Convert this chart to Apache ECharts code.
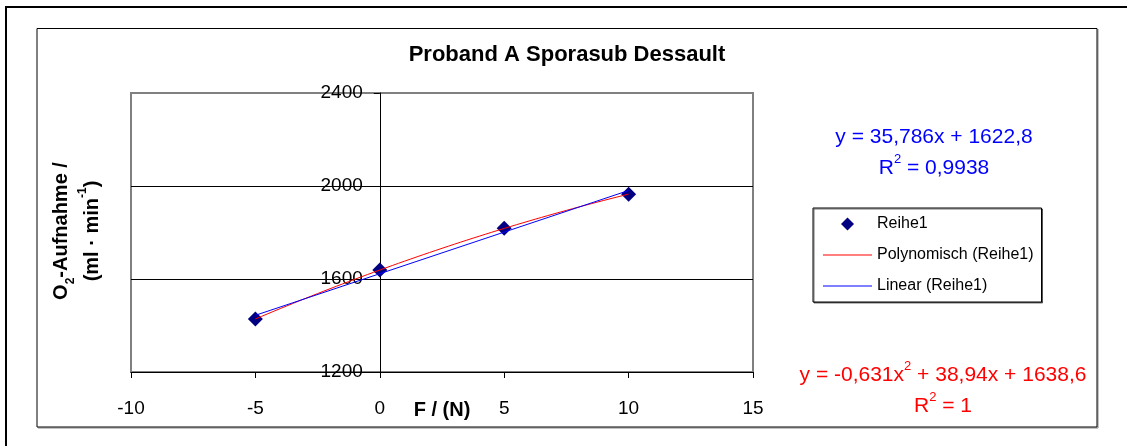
<!DOCTYPE html>
<html>
<head>
<meta charset="utf-8">
<title>Proband A Sporasub Dessault</title>
<script src="https://cdn.jsdelivr.net/npm/echarts@6/dist/echarts.min.js"></script>
<style>
  html, body { margin: 0; padding: 0; background: #fff; }
  #chart { width: 1127px; height: 446px; }
</style>
</head>
<body>
<div id="chart"></div>
<script>
// Measured load (F in N) and oxygen uptake (ml/min)
const forceValues = [-5, 0, 5, 10];
const o2Values = [1428, 1639, 1818, 1965];

// Trendline coefficients as printed on the chart
const linearCoef = [35.786, 1622.8];          // y = a*x + b
const linearR2 = '0,9938';
const polyCoef = [-0.631, 38.94, 1638.6];     // y = a*x^2 + b*x + c
const polyR2 = '1';

// Axis ranges and tick steps
const xMin = -10, xMax = 15, xStep = 5;
const yMin = 1200, yMax = 2400, yStep = 400;

const seriesNames = ['Reihe1', 'Polynomisch (Reihe1)', 'Linear (Reihe1)'];

const FONT = '"Liberation Sans", Arial, Helvetica, sans-serif';
const GRID = { left: 131, top: 93, width: 622, height: 279 };

const de = v => String(v).replace('.', ',');

// Trendline samples over the measured range
const tMin = Math.min(...forceValues), tMax = Math.max(...forceValues);
const polyLine = [];
for (let i = 0; i <= 60; i++) {
  const x = tMin + (tMax - tMin) * i / 60;
  polyLine.push([x, polyCoef[0] * x * x + polyCoef[1] * x + polyCoef[2]]);
}
const linLine = [tMin, tMax].map(x => [x, linearCoef[0] * x + linearCoef[1]]);

const eqRich = (color) => ({
  n: { fontFamily: FONT, fontSize: 21, lineHeight: 31, fill: color, color: color },
  s: { fontFamily: FONT, fontSize: 13, lineHeight: 20, verticalAlign: 'top', fill: color, color: color }
});

const linText = '{n|y = ' + de(linearCoef[0]) + 'x + ' + de(linearCoef[1]) + '}\n{n|R}{s|2}{n| = ' + linearR2 + '}';
const polyText = '{n|y = ' + de(polyCoef[0]) + 'x}{s|2}{n| + ' + de(polyCoef[1]) + 'x + ' + de(polyCoef[2]) + '}\n{n|R}{s|2}{n| = ' + polyR2 + '}';

// legend keys: a diamond marker and thin line samples
const ICON_DIAMOND = 'path://M5,0 L10,5 L5,10 L0,5 Z';
const ICON_LINE = 'path://M0,0 H49 V1 H0 Z';

const chart = echarts.init(document.getElementById('chart'), null, { renderer: 'canvas' });

chart.setOption({
  backgroundColor: '#fff',
  animation: false,
  title: {
    text: 'Proband A Sporasub Dessault',
    left: 567,
    top: 44,
    textAlign: 'center',
    padding: 0,
    textStyle: { fontFamily: FONT, fontSize: 22, fontWeight: 'bold', color: '#000' }
  },
  legend: {
    data: [
      { name: seriesNames[0], icon: ICON_DIAMOND, itemStyle: { color: '#000080', opacity: 1 } },
      { name: seriesNames[1], icon: ICON_LINE, itemStyle: { color: '#ff0000', opacity: 1 } },
      { name: seriesNames[2], icon: ICON_LINE, itemStyle: { color: '#0000ff', opacity: 1 } }
    ],
    orient: 'vertical',
    left: 813,
    top: 208,
    padding: [8, 8, 8, 10],
    itemGap: 15,
    itemWidth: 49,
    itemHeight: 13,
    symbolKeepAspect: true,
    backgroundColor: '#fff',
    borderColor: '#000',
    borderWidth: 1,
    shadowColor: 'rgba(0,0,0,0.55)',
    shadowOffsetX: 1,
    shadowOffsetY: 1,
    shadowBlur: 0,
    selectedMode: false,
    textStyle: { fontFamily: FONT, fontSize: 16, color: '#000' }
  },
  grid: {
    left: GRID.left, top: GRID.top, width: GRID.width, height: GRID.height,
    show: true, borderColor: '#808080', borderWidth: 2, backgroundColor: '#fff'
  },
  xAxis: {
    type: 'value',
    min: xMin, max: xMax, interval: xStep,
    name: 'F / (N)',
    nameLocation: 'middle',
    nameGap: 28,
    nameMoveOverlap: false,
    nameTextStyle: { fontFamily: FONT, fontSize: 20, fontWeight: 'bold', color: '#000', verticalAlign: 'top' },
    axisLine: { show: true, onZero: false, lineStyle: { color: '#000', width: 1 } },
    axisTick: { show: true, inside: false, length: 6, lineStyle: { color: '#000' } },
    axisLabel: { margin: 27, fontFamily: FONT, fontSize: 19, color: '#000' },
    splitLine: { show: false }
  },
  yAxis: {
    type: 'value',
    min: yMin, max: yMax, interval: yStep,
    position: 'left',
    // the vertical axis crosses the horizontal one at F = 0
    offset: -GRID.width * (0 - xMin) / (xMax - xMin),
    axisLine: { show: true, onZero: false, lineStyle: { color: '#000', width: 1 } },
    axisTick: { show: true, inside: false, length: 6, lineStyle: { color: '#000' } },
    axisLabel: { margin: 17, fontFamily: FONT, fontSize: 19, color: '#000', formatter: v => String(v) },
    splitLine: { show: true, showMinLine: false, showMaxLine: false, lineStyle: { color: '#000', width: 1 } }
  },
  series: [
    {
      name: seriesNames[0],
      type: 'scatter',
      symbol: 'diamond',
      symbolSize: 15,
      itemStyle: { color: '#000080', opacity: 1 },
      data: forceValues.map((x, i) => [x, o2Values[i]]),
      z: 2
    },
    {
      name: seriesNames[1],
      type: 'line',
      showSymbol: false,
      symbol: 'none',
      lineStyle: { color: '#ff0000', width: 1 },
      itemStyle: { color: '#ff0000' },
      data: polyLine,
      z: 3
    },
    {
      name: seriesNames[2],
      type: 'line',
      showSymbol: false,
      symbol: 'none',
      lineStyle: { color: '#0000ff', width: 1 },
      itemStyle: { color: '#0000ff' },
      data: linLine,
      z: 3
    }
  ],
  graphic: [
    // outer frame (left and top edges)
    { type: 'polyline', silent: true, shape: { points: [[6, 446], [6, 7], [1127, 7]] },
      style: { stroke: '#000', lineWidth: 2, fill: null } },
    // chart area frame
    { type: 'polyline', silent: true, shape: { points: [[38, 428], [1098, 428], [1098, 29]] },
      style: { stroke: '#888', lineWidth: 1, fill: null } },
    { type: 'rect', silent: true, shape: { x: 37, y: 28.5, width: 1060, height: 398.5 },
      style: { stroke: '#000', lineWidth: 1, fill: null } },
    // y-axis title
    { type: 'text', silent: true, x: 77, y: 231, rotation: Math.PI / 2,
      style: {
        text: '{b|O}{sub|2}{b|-Aufnahme /}\n{b|(ml · min}{sup|-1}{b|)}',
        align: 'center', verticalAlign: 'middle',
        rich: {
          b: { fontFamily: FONT, fontSize: 20, fontWeight: 'bold', lineHeight: 31, fill: '#000', color: '#000' },
          sub: { fontFamily: FONT, fontSize: 12, fontWeight: 'bold', lineHeight: 21, verticalAlign: 'bottom', fill: '#000', color: '#000' },
          sup: { fontFamily: FONT, fontSize: 12, fontWeight: 'bold', lineHeight: 21, verticalAlign: 'top', fill: '#000', color: '#000' }
        }
      } },
    // linear trendline equation
    { type: 'text', silent: true, x: 934, y: 153,
      style: { text: linText, align: 'center', verticalAlign: 'middle', rich: eqRich('#0000ff') } },
    // polynomial trendline equation
    { type: 'text', silent: true, x: 943, y: 391,
      style: { text: polyText, align: 'center', verticalAlign: 'middle', rich: eqRich('#ff0000') } }
  ]
});
</script>
</body>
</html>
